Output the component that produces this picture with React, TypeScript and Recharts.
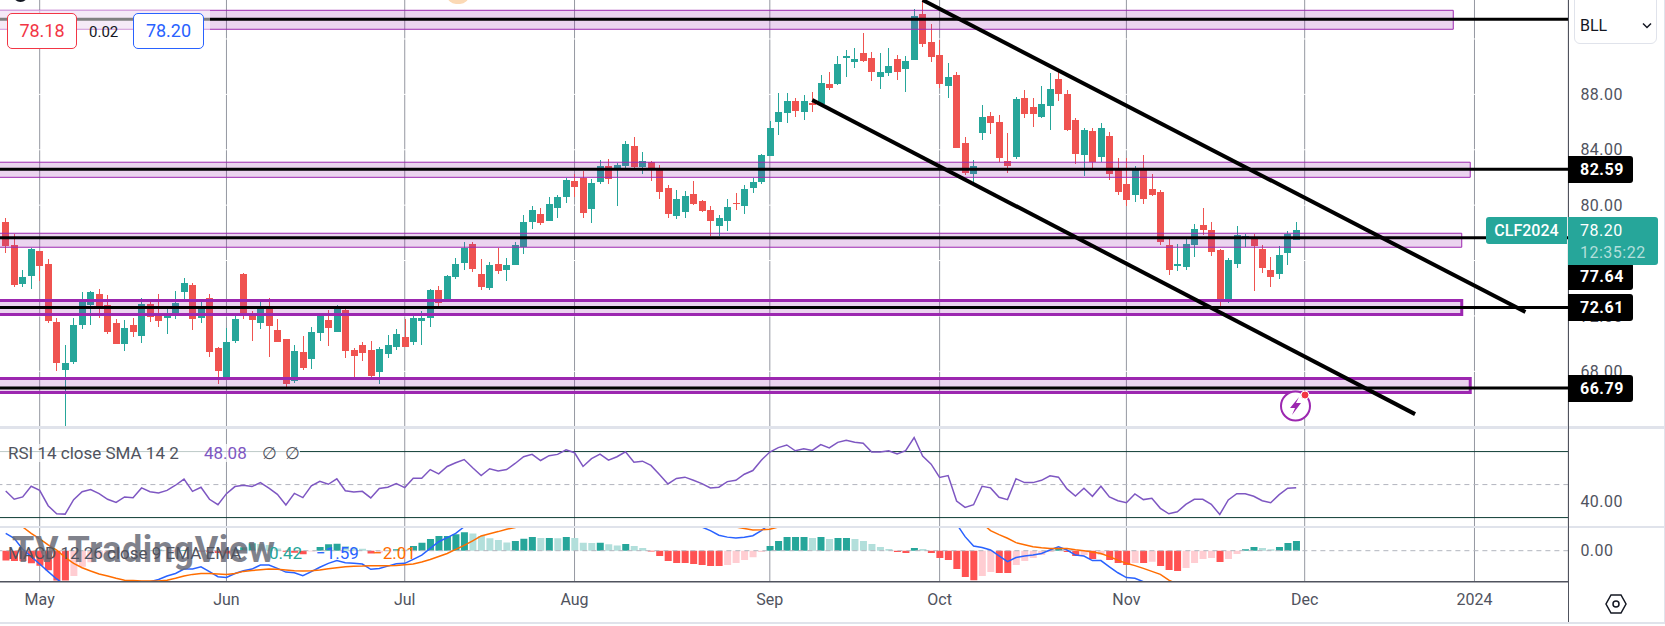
import React from "react";
import { Bar, Cell, ComposedChart, Line, ReferenceArea, ReferenceLine, XAxis, YAxis } from "recharts";

// one row per trading day, index 0 is the first candle on screen
const opens = [
  78.79, 77.13, 74.31, 74.89, 76.69, 75.75, 71.57, 68.10, 68.68, 71.35,
  72.79, 73.59, 72.79, 71.49, 69.98, 71.35, 70.56, 72.87, 72.07, 71.85,
  72.07, 73.73, 74.24, 71.85, 73.30, 69.69, 67.52, 70.19, 75.03, 72.07,
  71.49, 72.50, 70.99, 70.34, 67.31, 69.40, 68.89, 70.77, 71.71, 70.84,
  72.43, 69.54, 69.91, 69.54, 67.96, 69.26, 69.76, 70.48, 70.12, 71.64,
  71.85, 73.88, 73.23, 74.81, 75.83, 77.20, 75.03, 74.02, 75.75, 75.32,
  75.68, 76.98, 78.79, 79.36, 78.86, 79.80, 80.59, 81.75, 81.96, 79.72,
  81.67, 82.83, 82.54, 82.83, 84.27, 82.76, 83.09, 82.54, 81.24, 79.22,
  79.51, 80.81, 80.30, 79.65, 78.50, 78.86, 80.16, 79.94, 81.24, 81.67,
  83.55, 86.01, 86.66, 87.52, 86.73, 87.38, 87.31, 88.75, 88.75, 90.63,
  90.34, 90.99, 90.63, 89.26, 89.54, 90.55, 89.83, 90.48, 93.80, 91.78,
  90.84, 88.60, 89.40, 84.49, 82.25, 85.21, 86.44, 86.01, 83.19, 83.48,
  87.74, 87.09, 86.37, 87.16, 89.11, 88.03, 86.15, 83.62, 85.36, 83.48,
  85.00, 82.54, 81.53, 80.74, 82.54, 81.17, 80.95, 77.13, 75.61, 75.54,
  77.13, 78.57, 78.21, 76.76, 73.23, 75.75, 77.63, 77.56, 76.84, 75.32,
  75.03, 76.55, 77.49,
];
const highs = [
  79.07, 77.92, 75.32, 76.91, 76.69, 76.11, 71.85, 69.91, 71.85, 73.73,
  73.80, 73.95, 73.52, 71.78, 71.71, 71.85, 73.30, 73.01, 73.59, 72.50,
  73.80, 74.74, 74.38, 73.01, 73.59, 69.76, 71.13, 72.00, 75.10, 72.36,
  73.01, 73.30, 71.78, 70.34, 69.91, 70.56, 71.20, 72.07, 72.43, 72.79,
  72.50, 69.69, 70.12, 70.19, 69.76, 70.63, 71.06, 71.78, 72.00, 72.36,
  73.95, 74.17, 74.96, 76.19, 77.34, 77.34, 76.11, 75.90, 76.91, 76.19,
  77.34, 79.29, 79.94, 79.80, 80.59, 80.74, 81.96, 82.25, 82.47, 81.89,
  83.26, 83.33, 83.05, 84.63, 84.92, 83.84, 83.19, 82.90, 81.46, 81.10,
  81.02, 81.75, 80.37, 79.94, 79.29, 80.45, 80.88, 81.46, 81.96, 83.70,
  86.08, 88.10, 88.10, 87.74, 87.96, 88.17, 89.40, 89.62, 90.77, 91.20,
  91.35, 92.43, 91.06, 90.99, 91.35, 90.84, 90.77, 94.16, 94.80, 93.08,
  91.93, 90.27, 89.62, 84.92, 83.26, 87.23, 86.73, 86.51, 85.21, 87.81,
  88.32, 87.74, 88.60, 89.54, 89.69, 88.32, 86.29, 85.57, 85.57, 85.93,
  85.28, 83.41, 83.41, 82.83, 83.62, 82.25, 81.10, 77.56, 77.20, 77.56,
  78.64, 79.80, 78.79, 76.84, 76.19, 78.50, 77.92, 77.92, 77.13, 76.26,
  77.05, 78.14, 78.79,
];
const lows = [
  76.55, 74.09, 74.09, 73.95, 74.53, 71.49, 68.03, 64.06, 68.53, 71.06,
  71.35, 71.85, 70.70, 69.98, 69.47, 70.48, 70.05, 71.57, 71.20, 70.70,
  71.78, 73.23, 70.99, 71.49, 69.04, 67.09, 67.38, 70.05, 71.78, 70.19,
  71.06, 69.04, 70.12, 66.87, 67.16, 68.10, 68.17, 70.19, 69.83, 70.84,
  68.97, 67.59, 68.75, 67.55, 67.09, 68.97, 69.54, 69.76, 69.91, 69.90,
  71.20, 72.72, 73.15, 74.67, 75.32, 75.18, 73.88, 73.88, 75.03, 74.53,
  75.68, 76.48, 78.28, 78.57, 78.86, 79.07, 80.16, 80.59, 79.07, 78.71,
  81.53, 81.53, 79.94, 82.68, 82.68, 82.25, 81.75, 80.45, 79.07, 79.00,
  79.07, 80.01, 79.51, 77.78, 77.78, 78.14, 79.65, 79.36, 80.88, 81.53,
  83.55, 85.07, 85.93, 86.37, 86.15, 86.73, 87.31, 88.32, 88.68, 89.26,
  89.90, 90.34, 88.97, 88.39, 89.33, 89.04, 88.17, 90.48, 91.42, 90.34,
  88.46, 87.74, 84.13, 82.18, 81.67, 84.71, 85.14, 83.12, 82.32, 83.33,
  86.30, 85.64, 86.30, 85.43, 87.52, 85.36, 82.97, 82.11, 82.68, 83.12,
  81.82, 80.74, 79.94, 80.23, 80.09, 80.66, 77.13, 74.96, 75.25, 75.32,
  76.26, 77.85, 76.33, 72.72, 72.94, 75.47, 76.96, 73.80, 75.10, 74.09,
  74.67, 75.68, 77.49,
];
const closes = [
  77.05, 74.24, 74.81, 76.84, 75.61, 71.64, 68.61, 68.61, 71.35, 73.01,
  73.73, 72.72, 70.84, 69.98, 71.13, 70.84, 72.87, 71.93, 71.64, 72.07,
  72.94, 74.38, 71.78, 72.50, 69.40, 68.03, 70.12, 71.78, 72.14, 71.71,
  72.50, 71.28, 70.12, 67.09, 69.47, 68.24, 70.84, 72.00, 71.13, 72.50,
  69.47, 69.11, 69.33, 67.67, 69.62, 69.91, 70.70, 69.76, 71.85, 71.85,
  73.88, 72.94, 74.89, 75.75, 76.91, 75.39, 74.09, 75.68, 75.25, 75.68,
  77.13, 78.79, 79.65, 78.71, 80.09, 80.59, 81.82, 81.31, 79.44, 81.60,
  82.83, 81.89, 82.90, 84.42, 82.76, 83.19, 82.54, 80.95, 79.36, 80.45,
  80.66, 80.09, 79.58, 78.86, 79.07, 79.87, 80.09, 81.17, 81.67, 83.62,
  85.57, 86.73, 87.52, 86.80, 87.52, 87.23, 88.82, 88.46, 90.19, 90.77,
  90.55, 90.41, 89.62, 89.62, 90.05, 89.62, 90.41, 93.66, 91.64, 90.70,
  88.75, 89.26, 84.13, 82.32, 82.83, 86.37, 85.93, 83.41, 82.83, 87.67,
  86.58, 86.58, 87.31, 88.39, 88.03, 85.43, 83.70, 85.43, 83.12, 85.57,
  82.25, 80.95, 80.37, 82.54, 80.45, 80.74, 77.34, 75.32, 75.75, 77.20,
  78.28, 78.21, 76.62, 73.15, 76.04, 77.85, 77.78, 77.05, 75.47, 74.82,
  76.40, 77.92, 78.20,
];

const rsiValues = [
  46.1, 41.1, 42.5, 49.0, 46.5, 37.2, 32.3, 32.1, 40.9, 45.7,
  47.0, 44.5, 41.1, 39.2, 42.5, 42.1, 48.0, 45.7, 44.9, 46.5,
  49.6, 53.3, 45.9, 48.4, 41.1, 37.8, 44.5, 48.8, 49.6, 48.8,
  51.2, 47.8, 44.1, 37.6, 44.7, 42.1, 49.2, 52.0, 50.2, 53.5,
  46.3, 45.5, 45.9, 41.9, 47.6, 48.4, 50.6, 48.2, 53.9, 53.9,
  59.1, 56.5, 61.0, 63.2, 65.2, 60.2, 55.5, 59.6, 58.3, 59.1,
  62.8, 66.9, 68.3, 64.6, 67.5, 68.3, 71.1, 69.3, 61.0, 65.7,
  68.5, 64.8, 66.9, 69.9, 63.6, 64.2, 61.6, 56.1, 50.4, 53.7,
  54.5, 52.6, 50.6, 48.0, 48.4, 51.8, 52.6, 56.3, 58.5, 64.8,
  69.7, 72.4, 74.0, 70.5, 71.7, 70.7, 74.2, 72.2, 75.6, 76.8,
  75.6, 75.0, 69.7, 69.7, 70.5, 68.5, 70.5, 78.5, 67.3, 62.4,
  54.3, 55.5, 40.0, 36.2, 37.8, 49.0, 48.0, 42.3, 40.9, 53.5,
  51.2, 51.2, 52.6, 55.3, 54.5, 47.4, 43.1, 47.8, 42.9, 49.0,
  42.5, 40.2, 39.0, 44.3, 40.9, 41.7, 35.6, 32.3, 33.5, 38.0,
  41.1, 41.1, 38.0, 31.9, 40.7, 44.5, 44.5, 42.9, 40.2, 39.0,
  43.9, 47.8, 48.08,
];

const histValues = [
  -0.43, -0.45, -0.45, -0.55, -0.65, -0.85, -1.3, -1.3, -1.1, -0.7,
  -0.5, -0.3, -0.15, -0.1, -0.05, -0.03, 0.03, 0.02, 0.04, 0.02,
  -0.02, 0.03, 0.02, -0.03, -0.06, -0.1, -0.12, 0.05, 0.15, 0.32,
  0.29, 0.25, 0.1, -0.05, -0.09, -0.15, -0.04, 0.16, 0.28, 0.3,
  0.2, 0.13, 0.08, -0.12, -0.08, -0.02, 0.06, 0.05, 0.2, 0.35,
  0.51, 0.64, 0.64, 0.71, 0.8, 0.75, 0.64, 0.54, 0.46, 0.36,
  0.42, 0.52, 0.59, 0.55, 0.55, 0.54, 0.59, 0.55, 0.35, 0.33,
  0.34, 0.28, 0.23, 0.29, 0.2, 0.12, -0.03, -0.23, -0.45, -0.54,
  -0.54, -0.58, -0.62, -0.67, -0.67, -0.62, -0.54, -0.41, -0.28, -0.06,
  0.2, 0.42, 0.59, 0.59, 0.59, 0.55, 0.59, 0.51, 0.55, 0.55,
  0.51, 0.42, 0.29, 0.16, 0.07, -0.06, -0.1, 0.12, 0.07, -0.1,
  -0.32, -0.41, -0.8, -1.14, -1.28, -1.1, -0.93, -0.97, -0.97, -0.62,
  -0.45, -0.32, -0.19, -0.06, 0.1, -0.06, -0.23, -0.19, -0.36, -0.19,
  -0.41, -0.54, -0.62, -0.54, -0.54, -0.48, -0.67, -0.84, -0.88, -0.75,
  -0.54, -0.36, -0.32, -0.49, -0.36, -0.14, 0.06, 0.16, 0.12, 0.06,
  0.16, 0.33, 0.42,
];
const _ = null; // the line is off the pane here and can't be read
const macdValues = [
  0.75, 0.54, 0.06, -0.26, -0.58, -0.91, -1.23, -1.49, -1.6, _,
  _, _, _, _, _, _, -1.45, -1.35, -1.25, -1.1,
  -0.99, -0.8, -0.8, -0.7, -0.91, -1.13, -1.16, -0.99, -0.87, -0.8,
  -0.62, -0.62, -0.77, -0.93, -0.96, -1.09, -0.91, -0.72, -0.55, -0.43,
  -0.52, -0.55, -0.58, -0.81, -0.77, -0.67, -0.57, -0.55, -0.38, -0.19,
  0.1, 0.39, 0.57, 0.75, 1.04, 1.33, _, _, _, _,
  _, _, _, _, _, _, _, _, _, _,
  _, _, _, _, _, _, _, _, _, _,
  _, 1.26, 1.03, 0.87, 0.67, 0.59, 0.55, 0.58, 0.65, 0.87,
  1.16, _, _, _, _, _, _, _, _, _,
  _, _, _, _, _, _, _, _, _, _,
  _, 1.55, 1.16, 0.61, 0.2, 0.14, 0.03, -0.23, -0.48, -0.3,
  -0.23, -0.19, -0.12, 0.03, 0.17, 0.03, -0.19, -0.23, -0.43, -0.43,
  -0.7, -0.96, -1.17, -1.2, -1.35, -1.5, _, _, _, _,
  _, _, _, _, _, _, _, _, _, _,
  _, _, -1.59,
];
const signalValues = [
  1.35, 1.2, 1.03, 0.75, 0.51, 0.25, 0.03, -0.29, -0.55, -0.74,
  -0.88, -1.01, -1.1, -1.2, -1.28, -1.3, -1.32, -1.32, -1.32, -1.28,
  -1.2, -1.1, -1.03, -0.99, -0.99, -1.01, -1.04, -0.99, -0.9, -0.86,
  -0.83, -0.8, -0.81, -0.84, -0.87, -0.88, -0.87, -0.84, -0.78, -0.74,
  -0.7, -0.68, -0.67, -0.65, -0.65, -0.65, -0.64, -0.61, -0.58, -0.49,
  -0.38, -0.25, -0.12, 0.06, 0.23, 0.43, 0.64, 0.74, 0.83, 0.93,
  1.01, 1.1, _, _, _, _, _, _, _, _,
  _, _, _, _, _, _, _, _, _, _,
  _, _, _, _, _, 1.12, 1.03, 0.96, 0.9, 0.91,
  0.93, 1.03, 1.12, _, _, _, _, _, _, _,
  _, _, _, _, _, _, _, _, _, _,
  _, _, _, _, _, 1.19, 0.87, 0.7, 0.54, 0.35,
  0.26, 0.17, 0.13, 0.1, 0.1, 0.1, 0.04, 0, -0.06, -0.12,
  -0.26, -0.41, -0.55, -0.65, -0.77, -0.9, -1.03, -1.28, -1.45, _,
  _, _, _, _, _, _, _, _, _, _,
  _, _, -2.01,
];

// first three and the last ones are empty days so the drawings can run off the candles
const dayIndex = Array.from({ length: 187 }, (_v, k) => k - 3);
const monthTicks = [4, 26, 47, 67, 90, 110, 132, 153, 173];
const monthLabels = ["May", "Jun", "Jul", "Aug", "Sep", "Oct", "Nov", "Dec", "2024"];

const priceTicks = [88, 84, 80, 76, 72, 68];
const priceGrid = [92, 88, 84, 80, 76, 72, 68];
const priceDomain = [63.98, 94.814];
const rsiTicks = [80, 40];
const macdTicks = [0];

const levels = [93.42, 82.59, 77.64, 72.61, 66.79];
const levelBoxes = [
  { lo: 92.7, hi: 94.07, end: 170, heavy: false },
  { lo: 82.01, hi: 83.1, end: 172, heavy: false },
  { lo: 76.96, hi: 77.97, end: 171, heavy: false },
  { lo: 72.11, hi: 73.12, end: 171, heavy: true },
  { lo: 66.47, hi: 67.49, end: 172, heavy: true },
];
const channelLines = [
  [{ x: 108, y: 94.81 }, { x: 179, y: 72.28 }],
  [{ x: 95, y: 87.6 }, { x: 166, y: 64.91 }],
];

const rows = dayIndex.map((i) => ({
  i,
  o: opens[i],
  h: highs[i],
  l: lows[i],
  c: closes[i],
  rsi: rsiValues[i],
  hist: histValues[i],
  macd: macdValues[i],
  signal: signalValues[i],
}));

const GREEN = "#26a69a";
const RED = "#ef5350";
const GRID = "#9598a1";
const AXIS = "#50535e";
const FONT = "Roboto, sans-serif";
const CHART_LEFT = -24.38;
const CHART_WIDTH = 1689.38;
const AXIS_WIDTH = 97;

function Candle(props: any) {
  const { x, y, width, height, payload } = props;
  if (payload == null || payload.h == null) return null;
  const top = Math.min(y, y + height);
  const k = Math.abs(height) / (payload.h - payload.l);
  const color = payload.c >= payload.o ? GREEN : RED;
  const left = Math.round(x + width / 2 - 3.5);
  const bodyTop = top + (payload.h - Math.max(payload.o, payload.c)) * k;
  const bodyHeight = Math.max(1, Math.abs(payload.o - payload.c) * k);
  return (
    <g shapeRendering="crispEdges">
      <rect x={left + 3} y={top} width={1} height={Math.abs(height)} fill={color} />
      <rect x={left} y={bodyTop} width={7} height={bodyHeight} fill={color} />
    </g>
  );
}

function histColor(i: number) {
  const v = histValues[i];
  const prev = i > 0 ? histValues[i - 1] : v;
  if (v >= 0) return v >= prev ? GREEN : "#b2dfdb";
  return v <= prev ? "#ff5252" : "#ffcdd2";
}

const xAxisProps = {
  dataKey: "i",
  type: "category" as const,
  scale: "band" as const,
  padding: { left: 0, right: 4.75 },
  interval: 0,
};
const yTick = { fontSize: 16, fontFamily: FONT, fill: AXIS, letterSpacing: 0.5 };

function monthLines() {
  return monthTicks.map((m) => <ReferenceLine key={m} x={m} stroke={GRID} strokeWidth={1} zIndex={-100} />);
}

function PriceBadge({ top, text }: { top: number; text: string }) {
  return (
    <div style={{ position: "absolute", left: 1568, top, width: 65, height: 27, background: "#000", color: "#fff", borderRadius: "0 3px 3px 0", fontWeight: 700, fontSize: 16, lineHeight: "27px", paddingLeft: 12, boxSizing: "border-box", letterSpacing: 0.5 }}>
      {text}
    </div>
  );
}

function Txt({ x, y, color = "#50535e", size = 17, children }: { x: number; y: number; color?: string; size?: number; children: React.ReactNode }) {
  return <span style={{ position: "absolute", left: x, top: y, color, fontSize: size, lineHeight: "20px", whiteSpace: "nowrap" }}>{children}</span>;
}

export default function App() {
  return (
    <div style={{ position: "absolute", left: 0, top: 0, width: 1665, height: 626, overflow: "hidden", background: "#fff", fontFamily: FONT }}>
      <div style={{ position: "absolute", left: CHART_LEFT, top: 0 }}>
        <ComposedChart width={CHART_WIDTH} height={427} data={rows} margin={{ top: 0, right: 0, bottom: 0, left: 0 }}>
          <XAxis {...xAxisProps} hide />
          <YAxis orientation="right" width={AXIS_WIDTH} domain={priceDomain} allowDataOverflow ticks={priceTicks} tickFormatter={(v: number) => v.toFixed(2)} tick={yTick} tickSize={0} tickMargin={12} axisLine={{ stroke: AXIS }} tickLine={false} />
          {monthLines()}
          {priceGrid.map((p) => <ReferenceLine key={p} y={p} stroke="#fff" strokeWidth={1} zIndex={-90} />)}
          <Bar dataKey={(d: any) => (d.h == null ? null : [d.l, d.h])} barSize={7} shape={Candle} isAnimationActive={false} />
          {levelBoxes.map((b) => (
            <ReferenceArea key={b.lo} x1={-3} x2={b.end} y1={b.lo} y2={b.hi} fill="#9c27b0" fillOpacity={0.2} stroke="#9c27b0" strokeWidth={b.heavy ? 3 : 1} zIndex={500} />
          ))}
          {levels.map((p) => <ReferenceLine key={p} y={p} stroke="#000" strokeWidth={3} zIndex={600} />)}
          {channelLines.map((seg) => <ReferenceLine key={seg[0].x} segment={seg} stroke="#000" strokeWidth={4} zIndex={600} />)}
        </ComposedChart>
      </div>

      <div style={{ position: "absolute", left: CHART_LEFT, top: 427 }}>
        <ComposedChart width={CHART_WIDTH} height={99.5} data={rows} margin={{ top: 0, right: 0, bottom: 0, left: 0 }}>
          <XAxis {...xAxisProps} hide />
          <YAxis orientation="right" width={AXIS_WIDTH} domain={[24.6, 84.9]} allowDataOverflow ticks={rsiTicks} tickFormatter={(v: number) => v.toFixed(2)} tick={yTick} tickSize={0} tickMargin={12} axisLine={{ stroke: AXIS }} tickLine={false} />
          {monthLines()}
          <ReferenceLine y={70} stroke="#0d3b33" strokeWidth={1} />
          <ReferenceLine y={30} stroke="#0d3b33" strokeWidth={1} />
          <ReferenceLine y={50} stroke="#b2b5be" strokeWidth={1} strokeDasharray="5 4" />
          <Line dataKey="rsi" stroke="#7e57c2" strokeWidth={1.5} dot={false} isAnimationActive={false} />
        </ComposedChart>
      </div>

      <div style={{ position: "absolute", left: CHART_LEFT, top: 527 }}>
        <ComposedChart width={CHART_WIDTH} height={99} data={rows} margin={{ top: 0, right: 0, bottom: 0, left: 0 }}>
          <XAxis {...xAxisProps} height={44.3} ticks={monthTicks} tickFormatter={(v: number) => monthLabels[monthTicks.indexOf(v)]} tick={{ fontSize: 16, fontFamily: FONT, fill: AXIS }} tickSize={0} tickMargin={12} axisLine={{ stroke: AXIS, strokeWidth: 1.5 }} tickLine={false} />
          <YAxis orientation="right" width={AXIS_WIDTH} domain={[-1.348, 1.03]} allowDataOverflow ticks={macdTicks} tickFormatter={(v: number) => v.toFixed(2)} tick={yTick} tickSize={0} tickMargin={12} axisLine={{ stroke: AXIS }} tickLine={false} />
          {monthLines()}
          <ReferenceLine y={0} stroke="#b2b5be" strokeWidth={1} strokeDasharray="5 4" />
          <Bar dataKey="hist" barSize={7} isAnimationActive={false}>
            {rows.map((r) => <Cell key={r.i} fill={r.hist == null ? "none" : histColor(r.i)} />)}
          </Bar>
          <Line dataKey="macd" stroke="#2962ff" strokeWidth={1.5} dot={false} isAnimationActive={false} />
          <Line dataKey="signal" stroke="#ff6d00" strokeWidth={1.5} dot={false} isAnimationActive={false} />
        </ComposedChart>
      </div>

      {/* pane separators and frame */}
      <div style={{ position: "absolute", left: 0, top: 426, width: 1665, height: 2.5, background: "#e0e3eb" }} />
      <div style={{ position: "absolute", left: 0, top: 526, width: 1665, height: 1.5, background: "#e0e3eb" }} />
      <div style={{ position: "absolute", left: 1567.5, top: 0, width: 1, height: 623, background: AXIS }} />
      <div style={{ position: "absolute", left: 0, top: 622, width: 1665, height: 1.5, background: "#e0e3eb" }} />
      <div style={{ position: "absolute", left: 1664, top: 0, width: 1, height: 623, background: "#e0e3eb" }} />

      {/* top left quote */}
      <div style={{ position: "absolute", left: 0, top: 10, width: 210, height: 20, background: "rgba(255,255,255,0.5)" }} />
      <div style={{ position: "absolute", left: 13, top: -13, width: 15, height: 15, borderRadius: 8, background: "#131722" }} />
      <div style={{ position: "absolute", left: 447, top: -14, width: 22, height: 18, borderRadius: 10, background: "#fbd9b5" }} />
      <div style={{ position: "absolute", left: 7, top: 13, width: 70, height: 35.5, boxSizing: "border-box", border: "1px solid #f23645", borderRadius: 5, background: "#fff", color: "#f23645", fontSize: 18, lineHeight: "33px", textAlign: "center" }}>78.18</div>
      <Txt x={89} y={22} color="#131722" size={15}>0.02</Txt>
      <div style={{ position: "absolute", left: 133, top: 13, width: 71, height: 35.5, boxSizing: "border-box", border: "1px solid #2962ff", borderRadius: 5, background: "#fff", color: "#2962ff", fontSize: 18, lineHeight: "33px", textAlign: "center" }}>78.20</div>

      {/* symbol select */}
      <div style={{ position: "absolute", left: 1574, top: -8, width: 83, height: 52, boxSizing: "border-box", border: "1px solid #e0e3eb", borderRadius: 6, background: "#fff" }} />
      <Txt x={1580} y={16} color="#131722" size={16}>BLL</Txt>
      <svg style={{ position: "absolute", left: 1642, top: 22 }} width={10} height={8}><path d="M1 1.5 L5 5.5 L9 1.5" fill="none" stroke="#131722" strokeWidth={1.5} /></svg>

      {/* price badges */}
      <PriceBadge top={156} text="82.59" />
      <PriceBadge top={263} text="77.64" />
      <PriceBadge top={294} text="72.61" />
      <PriceBadge top={375} text="66.79" />
      <div style={{ position: "absolute", left: 1486, top: 217, width: 81, height: 27, background: GREEN, color: "#fff", borderRadius: "3px 0 0 3px", fontSize: 16, fontWeight: 500, lineHeight: "27px", textAlign: "center" }}>CLF2024</div>
      <div style={{ position: "absolute", left: 1568, top: 217, width: 90, height: 48, background: GREEN, color: "#fff", borderRadius: "0 3px 3px 0", fontSize: 16, lineHeight: "22px", paddingLeft: 12, paddingTop: 3, boxSizing: "border-box", letterSpacing: 0.5 }}>
        <div>78.20</div>
        <div style={{ color: "#b2dfdb" }}>12:35:22</div>
      </div>

      {/* alert icon */}
      <svg style={{ position: "absolute", left: 1278, top: 390 }} width={36} height={36}>
        <circle cx={17.5} cy={16} r={14.5} fill="#fff" stroke="#9c27b0" strokeWidth={2} />
        <path d="M21 7 L12 18 L17 18 L14 25 L23 13 L18 13 Z" fill="#9c27b0" />
        <circle cx={27} cy={5} r={4} fill="#f23645" stroke="#fff" strokeWidth={1} />
      </svg>

      {/* indicator legends */}
      <div style={{ position: "absolute", left: 0, top: 444, width: 300, height: 18, background: "rgba(255,255,255,0.72)" }} />
      <Txt x={8} y={443}>RSI 14 close SMA 14 2</Txt>
      <Txt x={204} y={443} color="#7e57c2">48.08</Txt>
      <Txt x={262} y={443}>∅</Txt>
      <Txt x={285} y={443}>∅</Txt>
      <div style={{ position: "absolute", left: 12, top: 532, color: "#6a6d78", fontSize: 36, fontWeight: 700, lineHeight: "36px", whiteSpace: "nowrap", opacity: 0.85, letterSpacing: 0.5 }}>TV TradingView</div>
      <Txt x={8} y={543}>MACD 12 26 close 9 EMA EMA</Txt>
      <Txt x={269} y={543} color={GREEN}>0.42</Txt>
      <Txt x={316} y={543} color="#2962ff">−1.59</Txt>
      <Txt x={373} y={543} color="#ff6d00">−2.01</Txt>

      <svg style={{ position: "absolute", left: 1604, top: 592 }} width={24} height={24}>
        <path d="M7 3 L17 3 L22 12 L17 21 L7 21 L2 12 Z" fill="none" stroke="#131722" strokeWidth={1.5} />
        <circle cx={12} cy={12} r={3} fill="none" stroke="#131722" strokeWidth={1.5} />
      </svg>
    </div>
  );
}
